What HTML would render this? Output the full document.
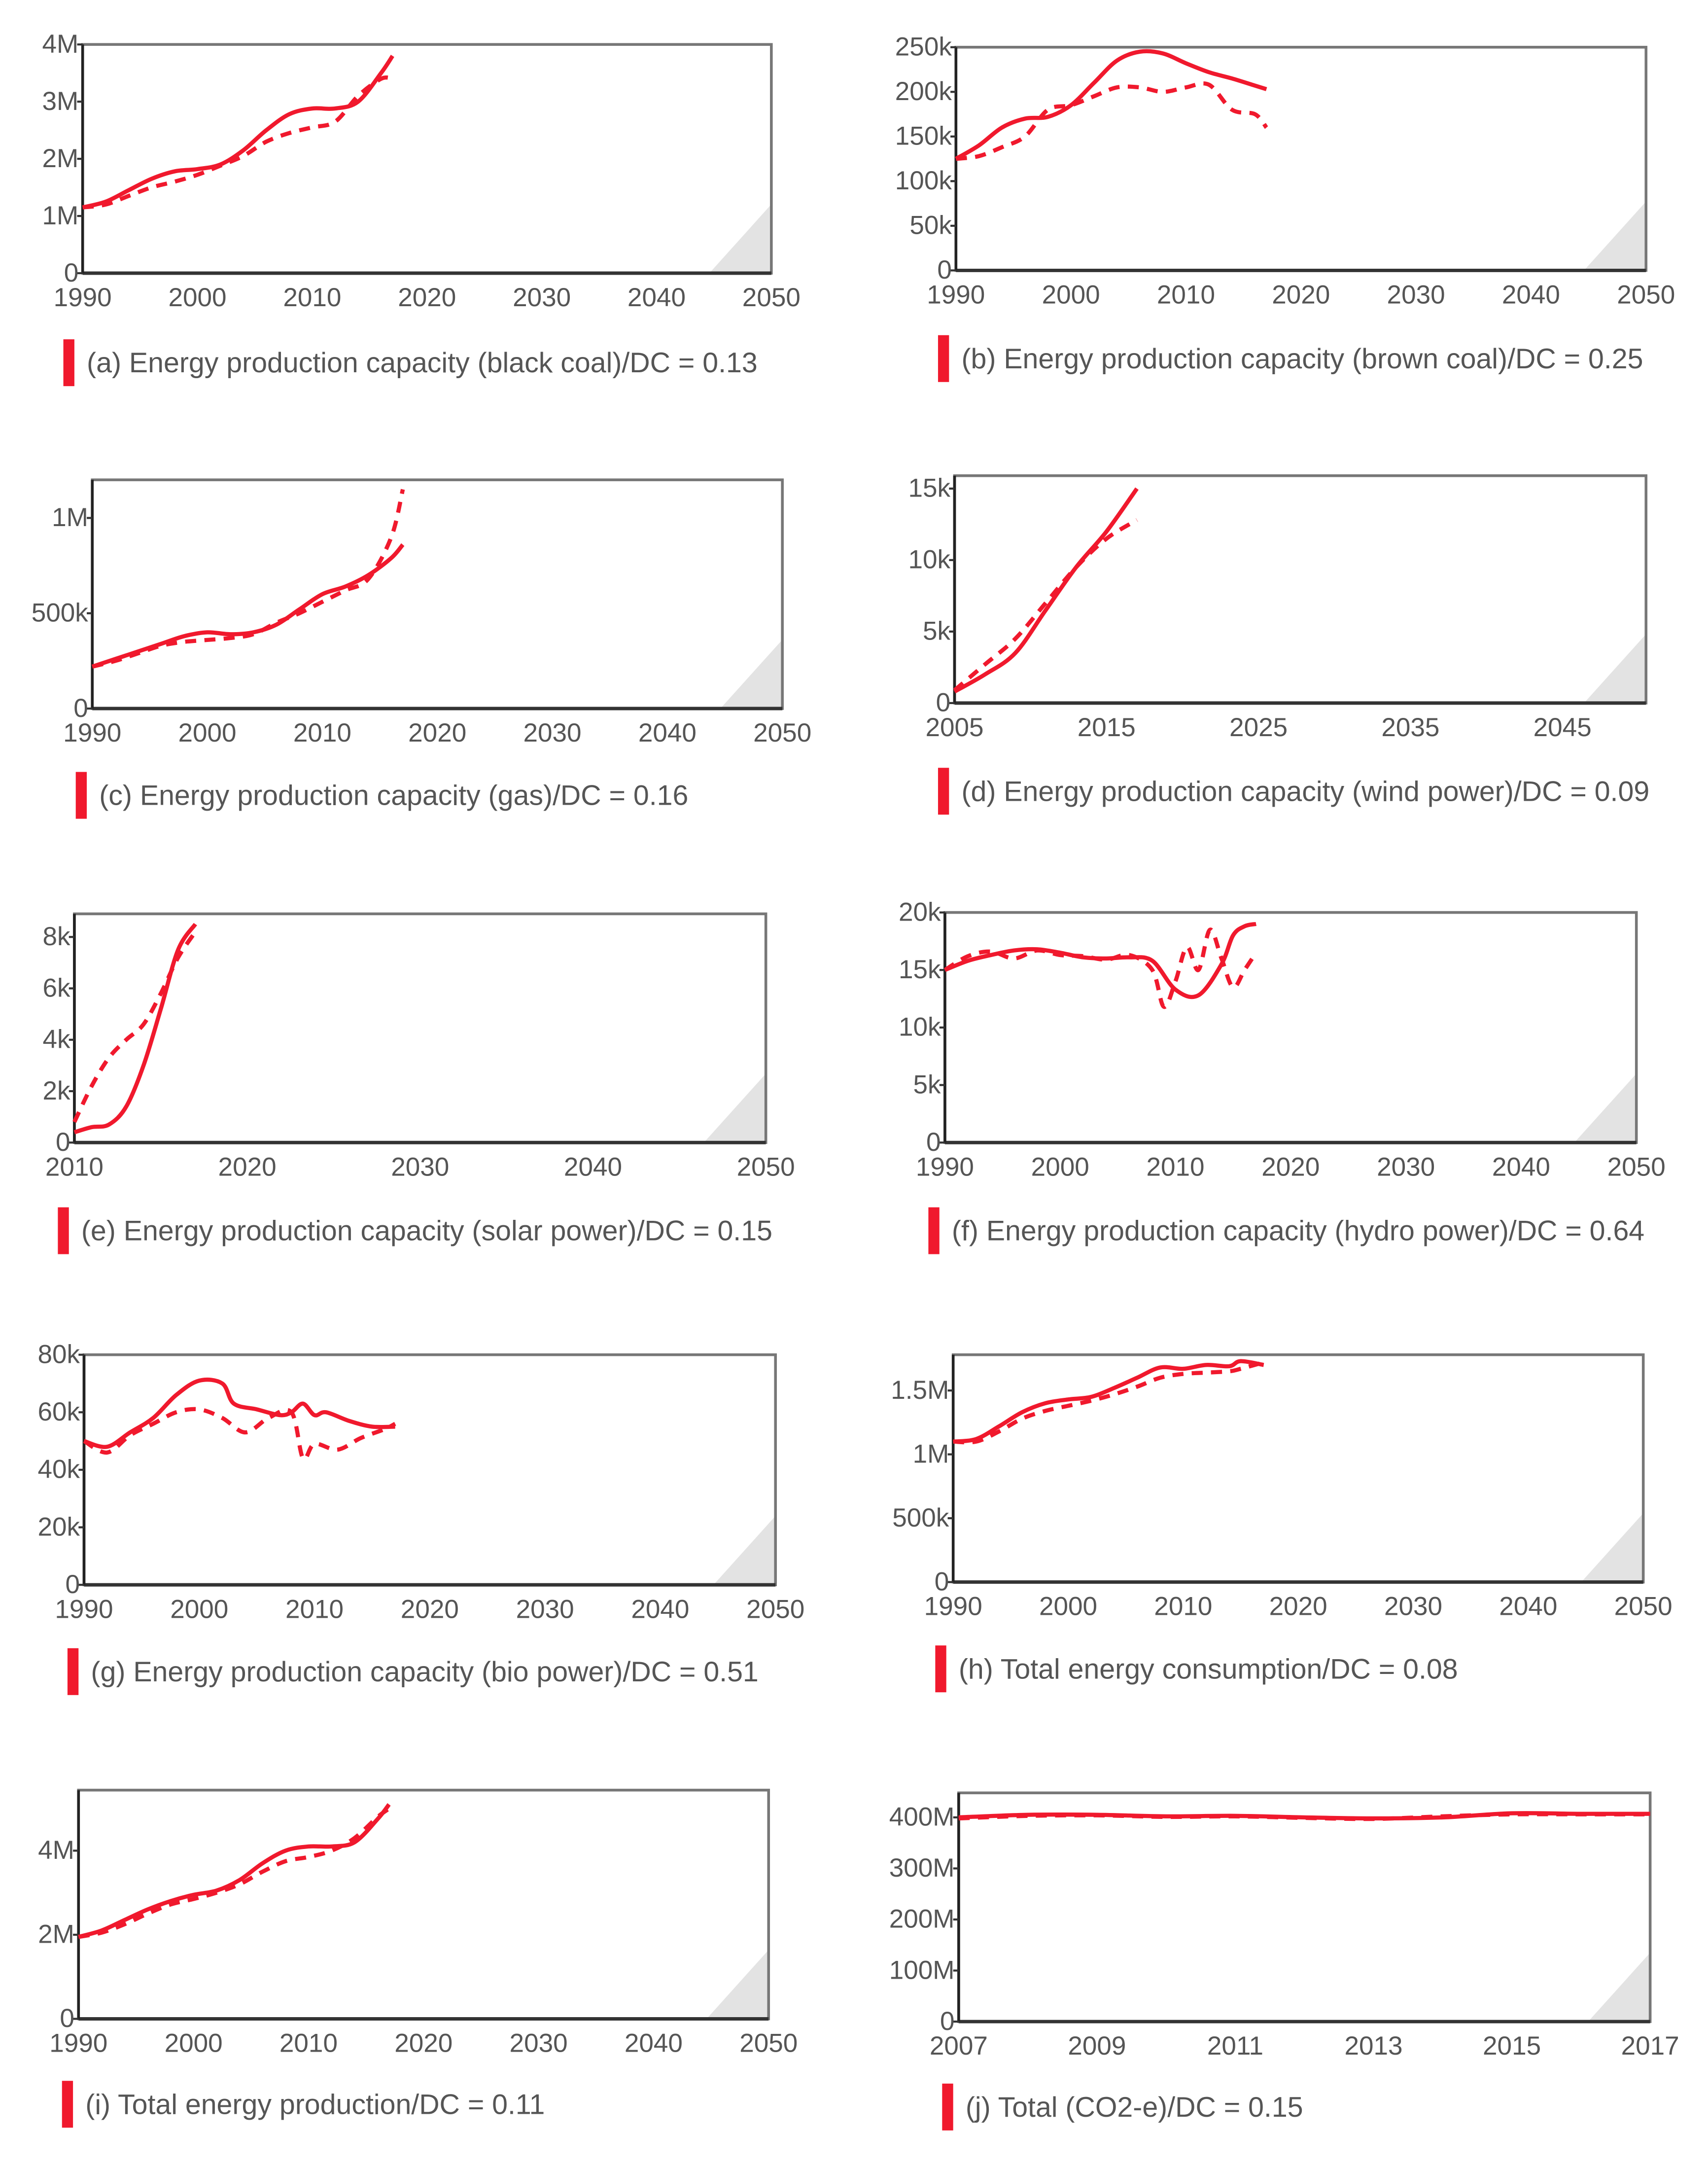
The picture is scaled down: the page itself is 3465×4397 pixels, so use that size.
<!DOCTYPE html>
<html><head><meta charset="utf-8"><style>
html,body{margin:0;padding:0;background:#fff;}
svg{display:block;font-family:"Liberation Sans",sans-serif;}
</style></head><body>
<svg id="fig" width="3465" height="4397" viewBox="0 0 1240 1573" xmlns="http://www.w3.org/2000/svg"></svg>
<script>
// ---- data ----
const aYears=[1990,1992,1994,1996,1998,2000,2002,2004,2006,2008,2010,2012,2014,2016,2017];
const aSolid=[1.15,1.25,1.45,1.65,1.78,1.82,1.9,2.15,2.5,2.78,2.88,2.88,3.0,3.5,3.8];
const aDashed=[1.15,1.2,1.35,1.5,1.6,1.72,1.88,2.05,2.3,2.45,2.55,2.65,3.1,3.4,3.4];
const bYears=[1990,1992,1994,1996,1998,2000,2002,2004,2006,2008,2010,2012,2014,2016,2017];
const bSolid=[125,140,160,170,172,185,210,235,245,243,232,222,215,207,203];
const bDashed=[125,128,138,150,180,185,195,205,205,200,205,208,180,175,160];
const cYears=[1990,1992,1994,1996,1998,2000,2002,2004,2006,2008,2010,2012,2014,2016,2017];
const cSolid=[220,260,300,340,380,400,390,400,440,520,600,640,700,790,860];
const cDashed=[220,250,290,330,350,360,370,390,450,500,560,620,680,900,1150];
const dYears=[2005,2007,2009,2011,2013,2015,2017];
const dSolid=[0.8,2.0,3.5,6.5,9.5,12.0,15.0];
const dDashed=[0.9,2.7,4.5,7.0,9.5,11.5,12.8];
const eYears=[2010,2011,2012,2013,2014,2015,2016,2017];
const eSolid=[0.4,0.6,0.7,1.4,3.0,5.2,7.5,8.5];
const eDashed=[0.8,2.2,3.3,4.0,4.6,5.8,7.2,8.2];
const fYearsS=[1990,1992,1994,1996,1998,2000,2002,2004,2006,2008,2010,2012,2014,2015,2016,2017];
const fSolid=[15,15.8,16.3,16.7,16.8,16.5,16.1,16.0,16.1,15.8,13.3,12.8,15.5,18,18.8,19.0];
const fYearsD=[1990,1992,1994,1996,1998,2000,2002,2004,2006,2008,2009,2010,2011,2012,2013,2014,2015,2016,2017];
const fDashed=[15,16.2,16.6,16.0,16.7,16.3,16.2,15.9,16.3,15.0,11.8,14,17,15,18.5,16,13.5,15,16.5];
const gYearsS=[1990,1992,1994,1996,1998,2000,2002,2003,2005,2007,2008,2009,2010,2011,2013,2015,2017];
const gSolid=[50,48,53,58,66,71,70,63,61,59,60,63,59,60,57,55,55];
const gYearsD=[1990,1992,1994,1996,1998,2000,2002,2004,2006,2008,2009,2010,2012,2014,2016,2017];
const gDashed=[50,46,52,56,60,61,58,53,58,60,44,49,47,51,54,56];
const hYears=[1990,1992,1994,1996,1998,2000,2002,2004,2006,2008,2010,2012,2014,2015,2017];
const hSolid=[1.1,1.12,1.22,1.33,1.4,1.43,1.45,1.52,1.6,1.68,1.67,1.7,1.69,1.73,1.7];
const hDashed=[1.1,1.1,1.18,1.28,1.34,1.38,1.42,1.47,1.53,1.6,1.63,1.64,1.65,1.67,1.72];
const iYears=[1990,1992,1994,1996,1998,2000,2002,2004,2006,2008,2010,2012,2014,2016,2017];
const iSolid=[1.95,2.1,2.35,2.6,2.8,2.95,3.05,3.3,3.7,4.0,4.1,4.1,4.2,4.75,5.1];
const iDashed=[1.95,2.05,2.25,2.5,2.72,2.85,3.0,3.2,3.5,3.75,3.85,4.0,4.3,4.8,5.0];
const jYears=[2007,2008,2009,2010,2011,2012,2013,2014,2015,2016,2017];
const jSolid=[400,405,405,402,403,400,398,400,408,407,407];
const jDashed=[398,403,404,401,402,399,397,402,406,406,406];

const xTicks1990=[1990,2000,2010,2020,2030,2040,2050];
const xTicksD=[2005,2015,2025,2035,2045];
const xTicksE=[2010,2020,2030,2040,2050];
const xTicksJ=[2007,2009,2011,2013,2015,2017];

// ---- panel layout ----
const panels=[
 {id:'a',box:[60,32,560,198],x:[1990,2050],y:[0,4],xt:xTicks1990,yt:[0,1,2,3,4],yl:['0','1M','2M','3M','4M'],xs:aYears,s:aSolid,xd:aYears,d:aDashed,title:'(a) Energy production capacity (black coal)/DC = 0.13',lg:[46,246]},
 {id:'b',box:[694,34,1195,196],x:[1990,2050],y:[0,250],xt:xTicks1990,yt:[0,50,100,150,200,250],yl:['0','50k','100k','150k','200k','250k'],xs:bYears,s:bSolid,xd:bYears,d:bDashed,title:'(b) Energy production capacity (brown coal)/DC = 0.25',lg:[681,243]},
 {id:'c',box:[67,348,568,514],x:[1990,2050],y:[0,1200],xt:xTicks1990,yt:[0,500,1000],yl:['0','500k','1M'],xs:cYears,s:cSolid,xd:cYears,d:cDashed,title:'(c) Energy production capacity (gas)/DC = 0.16',lg:[55,560]},
 {id:'d',box:[693,345,1195,510],x:[2005,2050.5],y:[0,15.9],xt:xTicksD,yt:[0,5,10,15],yl:['0','5k','10k','15k'],xs:dYears,s:dSolid,xd:dYears,d:dDashed,title:'(d) Energy production capacity (wind power)/DC = 0.09',lg:[681,557]},
 {id:'e',box:[54,663,556,829],x:[2010,2050],y:[0,8.9],xt:xTicksE,yt:[0,2,4,6,8],yl:['0','2k','4k','6k','8k'],xs:eYears,s:eSolid,xd:eYears,d:eDashed,title:'(e) Energy production capacity (solar power)/DC = 0.15',lg:[42,876]},
 {id:'f',box:[686,662,1188,829],x:[1990,2050],y:[0,20],xt:xTicks1990,yt:[0,5,10,15,20],yl:['0','5k','10k','15k','20k'],xs:fYearsS,s:fSolid,xd:fYearsD,d:fDashed,title:'(f) Energy production capacity (hydro power)/DC = 0.64',lg:[674,876]},
 {id:'g',box:[61,983,563,1150],x:[1990,2050],y:[0,80],xt:xTicks1990,yt:[0,20,40,60,80],yl:['0','20k','40k','60k','80k'],xs:gYearsS,s:gSolid,xd:gYearsD,d:gDashed,title:'(g) Energy production capacity (bio power)/DC = 0.51',lg:[49,1196]},
 {id:'h',box:[692,983,1193,1148],x:[1990,2050],y:[0,1.78],xt:xTicks1990,yt:[0,0.5,1,1.5],yl:['0','500k','1M','1.5M'],xs:hYears,s:hSolid,xd:hYears,d:hDashed,title:'(h) Total energy consumption/DC = 0.08',lg:[679,1194]},
 {id:'i',box:[57,1299,558,1465],x:[1990,2050],y:[0,5.44],xt:xTicks1990,yt:[0,2,4],yl:['0','2M','4M'],xs:iYears,s:iSolid,xd:iYears,d:iDashed,title:'(i) Total energy production/DC = 0.11',lg:[45,1510]},
 {id:'j',box:[696,1301,1198,1467],x:[2007,2017],y:[0,448],xt:xTicksJ,yt:[0,100,200,300,400],yl:['0','100M','200M','300M','400M'],xs:jYears,s:jSolid,xd:jYears,d:jDashed,title:'(j) Total (CO2-e)/DC = 0.15',lg:[684,1512]}
];

const NS='http://www.w3.org/2000/svg';
const fig=document.getElementById('fig');
function mk(tag,attrs,parent){const e=document.createElementNS(NS,tag);for(const k in attrs)e.setAttribute(k,attrs[k]);(parent||fig).appendChild(e);return e;}
function smooth(pts){
  let d='M'+pts[0][0]+','+pts[0][1];
  for(let i=0;i<pts.length-1;i++){
    const p0=pts[Math.max(0,i-1)],p1=pts[i],p2=pts[i+1],p3=pts[Math.min(pts.length-1,i+2)];
    const c1x=p1[0]+(p2[0]-p0[0])/6,c1y=p1[1]+(p2[1]-p0[1])/6;
    const c2x=p2[0]-(p3[0]-p1[0])/6,c2y=p2[1]-(p3[1]-p1[1])/6;
    d+=' C'+c1x.toFixed(2)+','+c1y.toFixed(2)+' '+c2x.toFixed(2)+','+c2y.toFixed(2)+' '+p2[0].toFixed(2)+','+p2[1].toFixed(2);
  }
  return d;
}
panels.forEach(p=>{
  const [x0,y0,x1,y1]=p.box;
  const sx=v=>x0+(v-p.x[0])/(p.x[1]-p.x[0])*(x1-x0);
  const sy=v=>y1-(v-p.y[0])/(p.y[1]-p.y[0])*(y1-y0);
  const g=mk('g',{});
  
  
  const tri=mk('polygon',{points:(x1-45)+','+y1+' '+x1+','+(y1-50)+' '+x1+','+y1,fill:'#e3e3e3'},g);
  
  
  const fr=mk('rect',{x:x0,y:y0,width:x1-x0,height:y1-y0,fill:'none',stroke:'#777','stroke-width':2},g);
  
  
  const xa=mk('line',{x1:x0,y1:y1,x2:x1,y2:y1,stroke:'#333','stroke-width':2.5},g);
  
  
  const ya=mk('line',{x1:x0,y1:y0,x2:x0,y2:y1,stroke:'#222','stroke-width':2},g);
  
  
  p.yt.forEach((v,i)=>{
    const y=sy(v);
    mk('line',{x1:x0-4,y1:y,x2:x0,y2:y,stroke:'#333','stroke-width':1.5},g);
    const t=mk('text',{x:x0-3,y:y+6,'text-anchor':'end','font-size':19,fill:'#555'},g);
    
    
    t.textContent=p.yl[i];
  });
  p.xt.forEach(v=>{
    const t=mk('text',{x:sx(v),y:y1+24,'text-anchor':'middle','font-size':19,fill:'#555'},g);
    
    
    t.textContent=v;
  });
  const dp=mk('path',{d:smooth(p.xd.map((v,i)=>[sx(v),sy(p.d[i])])),fill:'none',stroke:'#f0192d','stroke-width':3,'stroke-dasharray':'8 6'},g);
  
  
  const sp=mk('path',{d:smooth(p.xs.map((v,i)=>[sx(v),sy(p.s[i])])),fill:'none',stroke:'#f0192d','stroke-width':3},g);
  
  
  const lb=mk('rect',{x:p.lg[0],y:p.lg[1],width:8,height:34,fill:'#f0192d'},g);
  
  
  const lt=mk('text',{x:p.lg[0]+17,y:p.lg[1]+24,'font-size':20.5,fill:'#555'},g);
  
  
  lt.textContent=p.title;
});
</script>
</body></html>
